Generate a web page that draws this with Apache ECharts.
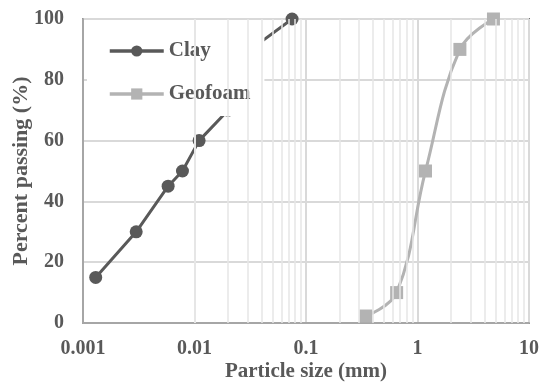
<!DOCTYPE html>
<html><head><meta charset="utf-8">
<script src="https://cdn.jsdelivr.net/npm/echarts@6/dist/echarts.min.js"></script>
<style>html,body{margin:0;padding:0;background:#fff}#c{width:542px;height:390px}</style>
</head><body><div id="c"></div>
<script>
const clayX = [0.0013, 0.003, 0.0058, 0.0078, 0.011, 0.02, 0.032, 0.075];
const clayY = [15, 30, 45, 50, 60, 70, 90, 100];
const geoX = [0.345, 0.65, 1.18, 2.4, 4.8];
const geoY = [2.3, 10, 50, 90, 100];
const xTickLabels = ['0.001', '0.01', '0.1', '1', '10'];
const minorMult = [2, 3, 4, 5, 6, 7, 8, 9];
const decades = [0.001, 0.01, 0.1, 1];

const font = 'Liberation Serif';
const txt = '#595959';
const minorLines = [];
decades.forEach(d => minorMult.forEach(m => minorLines.push({xAxis: +(d * m).toPrecision(3)})));

const chart = echarts.init(document.getElementById('c'), null, {renderer: 'canvas'});
chart.setOption({
  animation: false,
  grid: {left: 83, right: 13, top: 19, bottom: 67, containLabel: false, outerBoundsMode: 'none',
    show: true, borderColor: '#000', borderWidth: 1.5, backgroundColor: 'transparent'},
  legend: {
    orient: 'vertical', left: 87, top: 29,
    backgroundColor: '#fff',
    padding: [11, 14, 11, 21],
    itemGap: 21, itemWidth: 54, itemHeight: 14,
    lineStyle: {width: 3.5},
    data: ['Clay', 'Geofoam'],
    textStyle: {fontFamily: font, fontWeight: 'bold', fontSize: 21, lineHeight: 22, color: txt}
  },
  xAxis: {
    type: 'log', logBase: 10, min: 0.001, max: 10,
    name: 'Particle size (mm)', nameLocation: 'middle', nameGap: 38, nameMoveOverlap: false,
    nameTextStyle: {fontFamily: font, fontWeight: 'bold', fontSize: 21, color: txt},
    axisLine: {lineStyle: {color: '#a6a6a6', width: 2}},
    axisTick: {show: false},
    axisLabel: {margin: 16, fontFamily: font, fontWeight: 'bold', fontSize: 20, color: txt,
      formatter: v => xTickLabels[Math.round(Math.log10(v) + 3)] ?? ''},
    splitLine: {show: true, lineStyle: {color: '#d9d9d9', width: 2}}
  },
  yAxis: {
    type: 'value', min: 0, max: 100, interval: 20,
    name: 'Percent passing (%)', nameLocation: 'middle', nameGap: 51, nameMoveOverlap: false,
    nameTextStyle: {fontFamily: font, fontWeight: 'bold', fontSize: 22, color: txt},
    axisLine: {show: true, lineStyle: {color: '#a6a6a6', width: 2}},
    axisTick: {show: false},
    axisLabel: {margin: 19, fontFamily: font, fontWeight: 'bold', fontSize: 20, color: txt},
    splitLine: {show: true, lineStyle: {color: '#d9d9d9', width: 2}}
  },
  series: [
    {
      name: 'minor', type: 'line', data: [], z: 1, silent: true,
      markLine: {silent: true, symbol: 'none', label: {show: false},
        lineStyle: {color: '#e6e6e6', width: 1.5, type: 'solid'},
        data: minorLines}
    },
    {
      name: 'Clay', type: 'line', z: 3,
      data: clayX.map((x, i) => [x, clayY[i]]),
      symbol: 'circle', symbolSize: 13,
      lineStyle: {color: '#595959', width: 3},
      itemStyle: {color: '#595959'}
    },
    {
      name: 'Geofoam', type: 'line', z: 3, smooth: 0.4,
      data: geoX.map((x, i) => [x, geoY[i]]),
      symbol: 'rect', symbolSize: 13,
      lineStyle: {color: '#b3b3b3', width: 3},
      itemStyle: {color: '#b3b3b3'}
    }
  ]
});
</script></body></html>
